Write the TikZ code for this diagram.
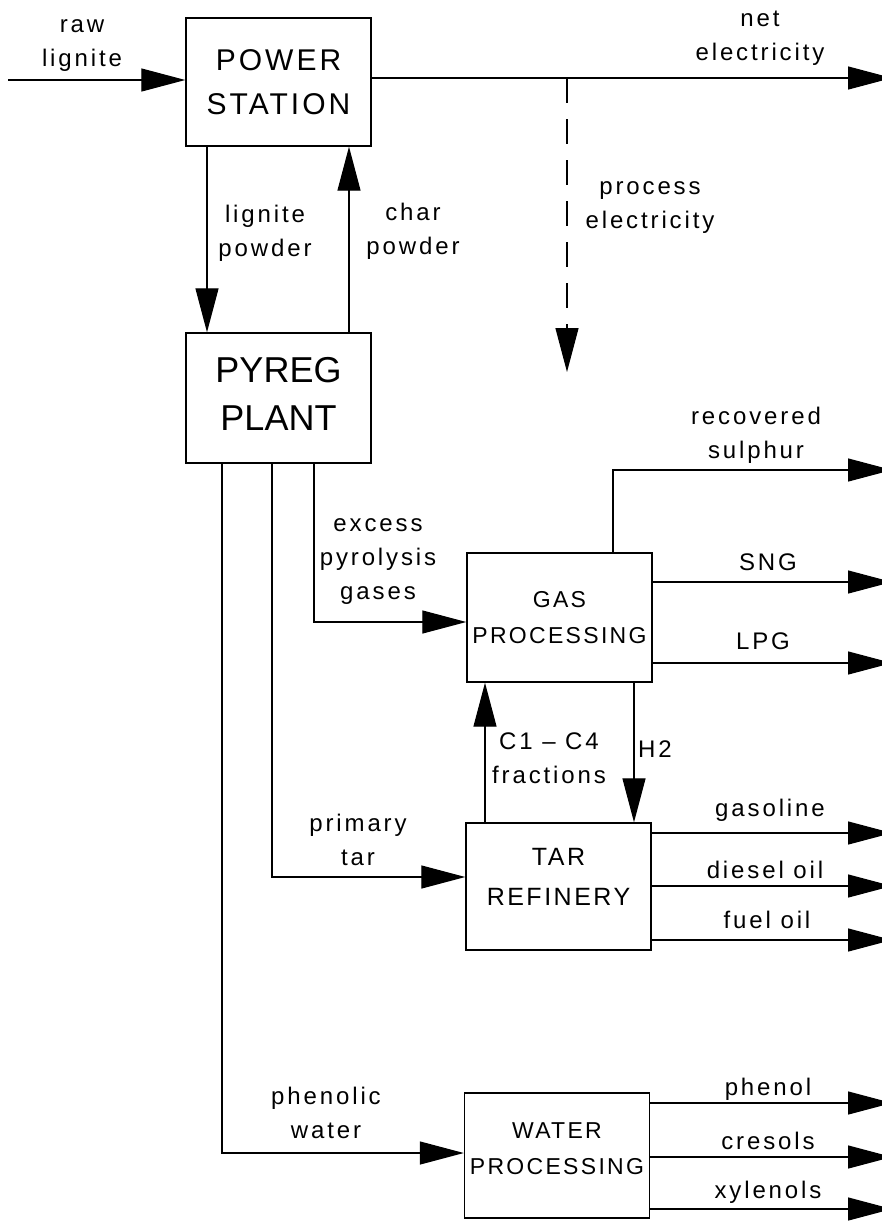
\documentclass[tikz,border=0pt]{standalone}
\usepackage{fontspec}
\setmainfont{Liberation Sans}[LetterSpace=10]
\usetikzlibrary{arrows.meta}
\begin{document}
\begin{tikzpicture}[x=1pt,y=-1pt,
  box/.style={draw,line width=1.4pt,minimum width=185pt,minimum height=128pt,inner sep=0pt,align=center},
  lbl/.style={inner sep=0pt,align=center,font=\fontsize{24}{34}\selectfont\addfontfeature{LetterSpace=12}},
  flow/.style={line width=1.3pt,-{Triangle[length=44pt,width=23pt]}},
  flowd/.style={flow,dash pattern=on 25pt off 16pt},
]
\useasboundingbox[fill=white] (0,0) rectangle (881,1221);

% boxes
\node[box,font=\fontsize{30}{44}\selectfont] (PS) at (278.5,82) {POWER\\STATION};
\node[box,minimum height=130pt,text depth=8pt,font=\fontsize{36}{48}\selectfont\addfontfeature{LetterSpace=0}] (PY) at (278.5,398) {PYREG\\PLANT};
\node[box,minimum height=129pt,font=\fontsize{23}{36}\selectfont] (GAS) at (559.5,617.5) {GAS\\PROCESSING};
\node[box,minimum height=127pt,text depth=20pt,font=\fontsize{25}{40}\selectfont] (TAR) at (558.5,886.5) {TAR\\REFINERY};
\node[box,minimum height=125pt,text depth=13pt,font=\fontsize{23}{36}\selectfont] (WAT) at (557,1155.5) {WATER\\PROCESSING};

% free ends and column positions
\coordinate (rawin) at (8,80);
\coordinate (netout) at (892,78);
\coordinate (peA) at (567,78);
\coordinate (peB) at (567,372);
\coordinate (lpx) at (207,0);
\coordinate (cpx) at (349,0);
\coordinate (exx) at (314,0);
\coordinate (ptx) at (272,0);
\coordinate (pwx) at (222,0);
\coordinate (rsx) at (613,0);
\coordinate (c14x) at (485,0);
\coordinate (h2x) at (634,0);
\coordinate (rsout) at (892,470);
\coordinate (sngout) at (892,582);
\coordinate (lpgout) at (892,663);
\coordinate (gasoout) at (892,833);
\coordinate (dieout) at (892,886);
\coordinate (fueout) at (892,940);
\coordinate (pheout) at (892,1103);
\coordinate (creout) at (892,1157);
\coordinate (xylout) at (892,1209);

% connectors
\draw[flow] (rawin) -- (rawin -| PS.west);
\draw[flow] (netout -| PS.east) -- (netout);
\draw[flowd] (peA) -- (peB);
\draw[flow] (PS.south -| lpx) -- (PY.north -| lpx);
\draw[flow] (PY.north -| cpx) -- (PS.south -| cpx);
\draw[flow] (PY.south -| exx) |- ([yshift=-4.5pt]GAS.west);
\draw[flow] (PY.south -| ptx) |- ([yshift=9.5pt]TAR.west);
\draw[flow] (PY.south -| pwx) |- ([yshift=2.5pt]WAT.west);
\draw[flow] (GAS.north -| rsx) |- (rsout);
\draw[flow] (sngout -| GAS.east) -- (sngout);
\draw[flow] (lpgout -| GAS.east) -- (lpgout);
\draw[flow] (TAR.north -| c14x) -- (GAS.south -| c14x);
\draw[flow] (GAS.south -| h2x) -- (TAR.north -| h2x);
\draw[flow] (gasoout -| TAR.east) -- (gasoout);
\draw[flow] (dieout -| TAR.east) -- (dieout);
\draw[flow] (fueout -| TAR.east) -- (fueout);
\draw[flow] (pheout -| WAT.east) -- (pheout);
\draw[flow] (creout -| WAT.east) -- (creout);
\draw[flow] (xylout -| WAT.east) -- (xylout);

% labels
\node[lbl] (lraw) at (82,45.5) {raw\\lignite};
\node[lbl] (lnet) at (760,38.5) {net\\electricity};
\node[lbl] (lpe) at (650,207.5) {process\\electricity};
\node[lbl] (llp) at (265,233.5) {lignite\\powder};
\node[lbl] (lcp) at (413,231.5) {char\\powder};
\node[lbl] (lex) at (378,562) {excess\\pyrolysis\\gases};
\node[lbl] (lrs) at (756,435.5) {recovered\\sulphur};
\node[lbl] (lsng) at (768,562) {SNG};
\node[lbl] (llpg) at (763,641) {LPG};
\node[lbl] (lc14) at (549,758.5) {C1 – C4\\fractions};
\node[lbl] (lh2) at (655,749) {H2};
\node[lbl] (lpt) at (358,840) {primary\\tar};
\node[lbl] (lgaso) at (770,810) {gasoline};
\node[lbl] (ldie) at (765,870) {diesel oil};
\node[lbl] (lfue) at (767,920) {fuel oil};
\node[lbl] (lpw) at (326,1113) {phenolic\\water};
\node[lbl] (lphe) at (768,1089) {phenol};
\node[lbl] (lcre) at (768,1141) {cresols};
\node[lbl] (lxyl) at (768,1192) {xylenols};
\end{tikzpicture}
\end{document}
